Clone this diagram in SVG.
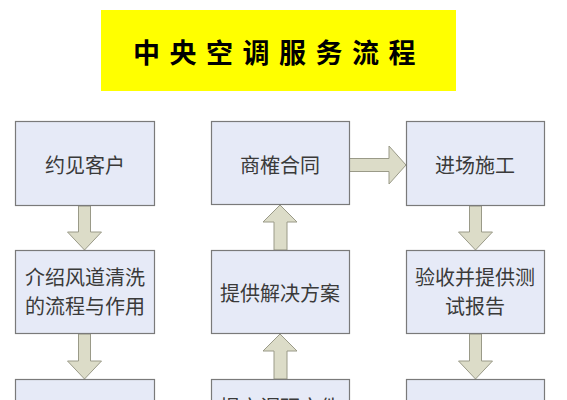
<svg xmlns="http://www.w3.org/2000/svg" width="567" height="400" viewBox="0 0 567 400">
<style>
.box{fill:#e6eaf7;stroke:#7a7a7a;stroke-width:1.2}
.arr{fill:#dcdcc8;stroke:#9a9a88;stroke-width:1}
.t{font-family:"Noto Sans CJK SC","Noto Sans",sans-serif;font-size:20px;fill:#3a3a3a;text-anchor:middle;dominant-baseline:central}
.title{font-family:"Noto Sans CJK SC","Noto Sans",sans-serif;font-size:27px;font-weight:bold;fill:#000;dominant-baseline:central;letter-spacing:9.5px}
</style>
<rect width="567" height="400" fill="#ffffff"/>
<g id="title">
<rect x="101" y="10" width="355" height="81" fill="#ffff00"/>
<text class="title" x="133" y="51">中央空调服务流程</text>
</g>
<g id="connectors">
<path class="arr" d="M78.5,206 H90.5 V232 H101.5 L84.5,250 L67.5,232 H78.5 Z"/>
<path class="arr" d="M78.5,334 H90.5 V361 H101.5 L84.5,379 L67.5,361 H78.5 Z"/>
<path class="arr" d="M274,250 H287 V222 H297 L280,205 L263,222 H274 Z"/>
<path class="arr" d="M274,379 H287 V351 H297 L280,334 L263,351 H274 Z"/>
<path class="arr" d="M349,158.5 H389 V146 L406,165 L389,184 V171.5 H349 Z"/>
<path class="arr" d="M469.5,206 H481.5 V232 H492.5 L475.5,250 L458.5,232 H469.5 Z"/>
<path class="arr" d="M469.5,334 H481.5 V361 H492.5 L475.5,379 L458.5,361 H469.5 Z"/>
</g>
<g id="n1"><rect class="box" x="15.5" y="121.5" width="139" height="84"/><text class="t" x="85" y="164">约见客户</text></g>
<g id="n2"><rect class="box" x="15.5" y="250.5" width="139" height="83"/><text class="t" x="85" y="276">介绍风道清洗</text><text class="t" x="85" y="305">的流程与作用</text></g>
<g id="n3"><rect class="box" x="15.5" y="379.5" width="139" height="40"/></g>
<g id="n4"><rect class="box" x="211.5" y="121.5" width="138" height="83"/><text class="t" x="280" y="164">商榷合同</text></g>
<g id="n5"><rect class="box" x="211.5" y="250.5" width="138" height="83"/><text class="t" x="280" y="292">提供解决方案</text></g>
<g id="n6"><rect class="box" x="211.5" y="379.5" width="138" height="40"/><text class="t" x="280" y="406">提交调研文件</text></g>
<g id="n7"><rect class="box" x="406.5" y="121.5" width="138" height="84"/><text class="t" x="475" y="164">进场施工</text></g>
<g id="n8"><rect class="box" x="406.5" y="250.5" width="138" height="83"/><text class="t" x="475" y="276">验收并提供测</text><text class="t" x="475" y="305">试报告</text></g>
<g id="n9"><rect class="box" x="406.5" y="379.5" width="138" height="40"/></g>
</svg>
